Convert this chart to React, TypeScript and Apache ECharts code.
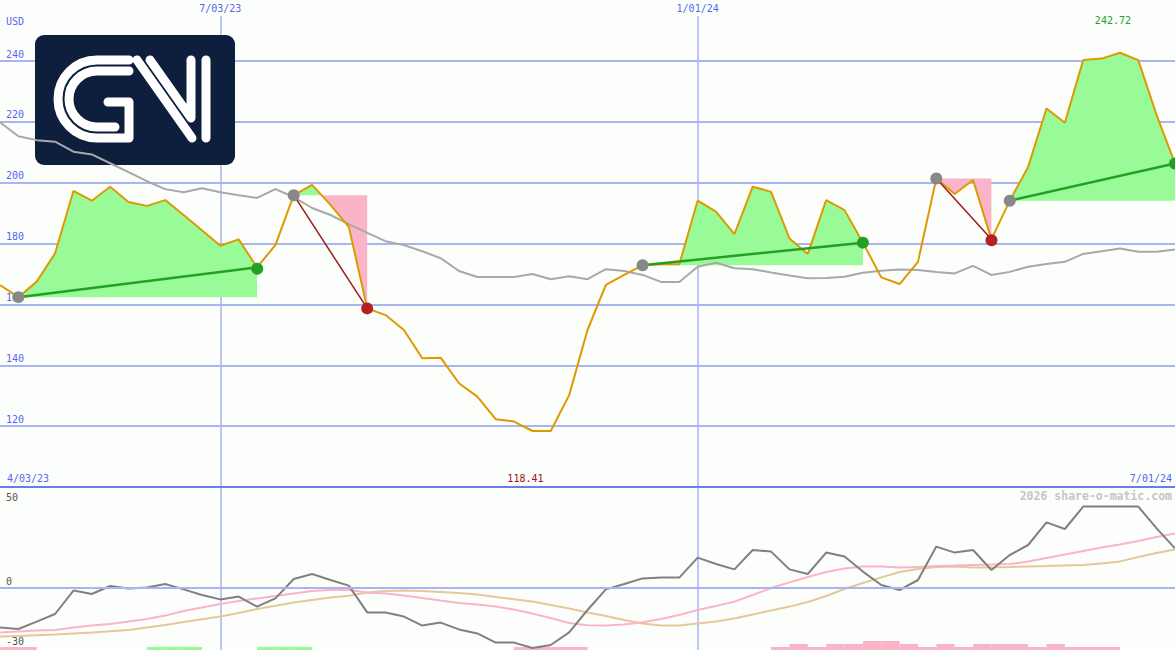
import React, { useEffect, useRef } from "react";
import * as echarts from "echarts";

// ---------- data ----------
const dates = [
  "4/03/23", "4/17/23", "4/24/23", "5/01/23", "5/08/23", "5/15/23", "5/22/23", "5/29/23", "6/05/23", "6/12/23",
  "6/19/23", "6/26/23", "7/03/23", "7/10/23", "7/17/23", "7/24/23", "7/31/23", "8/07/23", "8/14/23", "8/21/23",
  "8/28/23", "9/04/23", "9/11/23", "9/18/23", "9/25/23", "10/02/23", "10/09/23", "10/16/23", "10/23/23", "10/30/23",
  "11/06/23", "11/13/23", "11/20/23", "11/27/23", "12/04/23", "12/11/23", "12/18/23", "12/25/23", "1/01/24", "1/08/24",
  "1/15/24", "1/22/24", "1/29/24", "2/05/24", "2/12/24", "2/19/24", "2/26/24", "3/04/24", "3/11/24", "3/18/24",
  "3/25/24", "4/01/24", "4/08/24", "4/15/24", "4/22/24", "4/29/24", "5/06/24", "5/13/24", "5/20/24", "5/27/24",
  "6/03/24", "6/10/24", "6/17/24", "6/24/24", "7/01/24",
];

const price = [
  166.4, 162.4, 167.5, 176.8, 197.3, 194.1, 198.7, 193.7, 192.4, 194.3,
  189.4, 184.4, 179.3, 181.4, 172.2, 179.5, 195.9, 199.3, 192.7, 185.5,
  158.7, 156.5, 151.6, 142.3, 142.5, 134.1, 129.7, 122.3, 121.5, 118.41,
  118.43, 130.2, 151.6, 166.4, 169.7, 172.9, 173.2, 173.2, 194.1, 190.5,
  183.1, 198.7, 197.0, 181.7, 176.6, 194.3, 191.0, 180.3, 168.9, 166.7,
  174.0, 201.4, 196.3, 200.9, 181.4, 194.1, 205.2, 224.4, 219.7, 240.3,
  240.8, 242.72, 240.3, 222.2, 206.3,
];

const priceAvg = [
  219.9, 215.3, 214.0, 213.5, 210.2, 209.3, 206.4, 203.5, 200.5, 197.9,
  196.9, 198.2, 196.9, 195.9, 195.0, 197.9, 195.3, 191.7, 189.4, 186.4,
  183.5, 180.8, 179.5, 177.5, 175.2, 171.0, 169.0, 169.0, 169.0, 170.0,
  168.3, 169.3, 168.3, 171.6, 171.0, 169.7, 167.4, 167.4, 172.4, 173.7,
  171.9, 171.6, 170.5, 169.5, 168.6, 168.7, 169.1, 170.4, 171.1, 171.5,
  171.3, 170.7, 170.2, 172.7, 169.7, 170.7, 172.4, 173.3, 174.0, 176.6,
  177.5, 178.4, 177.3, 177.3, 178.1,
];

const oscMain = [
  -19.8, -20.5, -16.8, -13.0, -1.3, -3.0, 1.0, -0.2, 0.2, 2.0,
  -0.7, -3.5, -5.7, -4.3, -9.3, -5.2, 4.5, 7.0, 4.0, 1.2,
  -12.2, -12.3, -14.3, -18.8, -17.3, -20.7, -22.7, -27.3, -27.3, -30.0,
  -28.5, -22.2, -11.0, -0.7, 2.0, 4.8, 5.2, 5.2, 15.2, 12.0,
  9.3, 19.0, 18.2, 9.3, 7.0, 17.7, 15.7, 8.2, 1.5, -1.0,
  4.0, 20.7, 17.7, 19.0, 9.0, 16.5, 21.5, 32.8, 29.5, 40.7,
  40.7, 40.7, 40.7, 29.8, 19.8,
];

const oscFast = [
  -22.3, -21.8, -21.3, -21.0, -19.8, -18.8, -18.0, -16.8, -15.5, -13.8, -11.5,
  -9.8, -8.0, -6.5, -5.2, -4.0, -2.7, -1.5, -1.0, -1.0, -2.3, -2.8,
  -3.7, -5.0, -6.3, -7.5, -8.3, -9.2, -10.8, -12.8, -15.0, -17.5, -18.6,
  -18.8, -18.2, -17.1, -15.5, -13.5, -11.0, -9.0, -6.8, -3.5, 0.0,
  2.8, 5.5, 8.0, 9.8, 10.7, 10.7, 10.3, 10.5, 11.0, 11.2, 11.5,
  11.7, 12.0, 13.2, 15.0, 16.7, 18.5, 20.2, 21.7, 23.5, 25.5, 27.3,
];

const oscSlow = [
  -24.3, -24.0, -23.6, -23.2, -22.7, -22.2, -21.6, -21.0, -19.8, -18.5, -17.0,
  -15.6, -14.3, -12.5, -10.5, -8.9, -7.3, -6.0, -4.8, -3.9, -2.3, -1.5,
  -1.2, -1.5, -2.0, -2.5, -3.3, -4.5, -5.6, -6.8, -8.5, -10.3, -12.2,
  -14.0, -16.0, -17.7, -18.7, -18.8, -17.8, -16.8, -15.2, -13.2, -11.2,
  -9.3, -7.0, -4.0, -0.5, 2.5, 5.3, 8.0, 9.5, 10.5, 10.7, 10.3,
  10.3, 10.5, 10.8, 11.0, 11.3, 11.5, 12.3, 13.3, 15.5, 17.5, 19.3,
];

// signal strip at the bottom: +n green, -n pink, 0 none
const signalLevels = [
  -1, -1, 0, 0, 0, 0, 0, 0, 1, 1,
  1, 0, 0, 0, 1, 1, 1, 0, 0, 0,
  0, 0, 0, 0, 0, 0, 0, 0, -1, -1,
  -1, -1, 0, 0, 0, 0, 0, 0, 0, 0,
  0, 0, -1, -2, -1, -2, -2, -3, -3, -2,
  -1, -2, -1, -2, -2, -2, -1, -2, -1, -1,
  -1, 0, 0, 0,
];

const tradeEntry = [1, 16, 35, 51, 55];
const tradeExit = [14, 20, 47, 54, 64];

const priceTicks = [120, 140, 160, 180, 200, 220, 240];
const oscTicksBelow = [0, -30];
const oscTicksTop = [50];
const markedDates = ["7/03/23", "1/01/24"];
const endDates = ["4/03/23", "7/01/24"];

// ---------- styles ----------
const MONO = "'DejaVu Sans Mono', monospace";
const BLUE_TEXT = "#5468ee";
const GRID_LINE = "#a9b4f3";
const AXIS_LINE = "#6b7de9";
const FILL_GREEN = "#98fb98";
const FILL_PINK = "#fab4c8";
const OSC_MIN = -31;
const OSC_MAX = 50;

const LOGO_PATH =
  "M129,60 H97 A39,39 0 0 0 58,99 A39,39 0 0 0 97,138 H129 V102 H108 " +
  "M129,71 H97 A28,28 0 0 0 69,99 A28,28 0 0 0 97,127 H115 " +
  "M137,60 L192,138 M150,60 L191,118 L191,60 " +
  "M206,60 V138";

echarts.graphic.registerShape("gniLogo", echarts.graphic.extendPath(LOGO_PATH, {}));

function buildOption() {
  const fillRender = (params: any, api: any) => {
    const k = params.dataIndex;
    const e = tradeEntry[k];
    const x = tradeExit[k];
    const L = price[e];
    const base = api.coord([e, L]);
    const up: number[][] = [base];
    const dn: number[][] = [base];
    for (let i = e; i <= x; i++) {
      if (i > e) {
        const a = price[i - 1] - L;
        const b = price[i] - L;
        if (a * b < 0) {
          const t = a / (a - b);
          const p0 = api.coord([i - 1, L]);
          const p1 = api.coord([i, L]);
          const c = [p0[0] + (p1[0] - p0[0]) * t, p0[1]];
          up.push(c);
          dn.push(c);
        }
      }
      up.push(api.coord([i, Math.max(price[i], L)]));
      dn.push(api.coord([i, Math.min(price[i], L)]));
    }
    up.push(api.coord([x, L]));
    dn.push(api.coord([x, L]));
    return {
      type: "group",
      children: [
        { type: "polygon", shape: { points: up }, style: { fill: FILL_GREEN } },
        { type: "polygon", shape: { points: dn }, style: { fill: FILL_PINK } },
      ],
    };
  };

  const markerRender = (params: any, api: any) => {
    const k = params.dataIndex;
    const e = tradeEntry[k];
    const x = tradeExit[k];
    const p0 = api.coord([e, price[e]]);
    const p1 = api.coord([x, price[x]]);
    const win = price[x] >= price[e];
    return {
      type: "group",
      children: [
        {
          type: "line",
          shape: { x1: p0[0], y1: p0[1], x2: p1[0], y2: p1[1] },
          style: { stroke: win ? "#23a023" : "#9e1b1b", lineWidth: win ? 2.5 : 1.5 },
        },
        { type: "circle", shape: { cx: p0[0], cy: p0[1], r: 6 }, style: { fill: "#888888" } },
        { type: "circle", shape: { cx: p1[0], cy: p1[1], r: 6 }, style: { fill: win ? "#23a023" : "#b22222" } },
      ],
    };
  };

  const signalRender = (params: any, api: any) => {
    const i = api.value(0);
    const lv = api.value(1);
    const a = api.coord([i, OSC_MIN]);
    const b = api.coord([i + 1, OSC_MIN + Math.abs(lv) * 1.5]);
    return {
      type: "rect",
      shape: { x: a[0], y: b[1], width: b[0] - a[0], height: a[1] - b[1] },
      style: { fill: lv > 0 ? FILL_GREEN : FILL_PINK },
    };
  };

  const isMarked = (_i: number, v: string) => markedDates.includes(v);
  const isEnd = (_i: number, v: string) => endDates.includes(v);

  return {
    animation: false,
    backgroundColor: "#fcfefc",
    grid: [
      { left: 0, right: 0, top: 16, height: 471, outerBoundsMode: "none", containLabel: false },
      { left: 0, right: 0, top: 488, height: 162, outerBoundsMode: "none", containLabel: false },
    ],
    xAxis: [
      {
        gridIndex: 0,
        type: "category",
        data: dates,
        position: "top",
        boundaryGap: false,
        axisLine: { show: false },
        axisTick: { show: false },
        axisLabel: {
          interval: isMarked,
          color: BLUE_TEXT,
          fontFamily: MONO,
          fontSize: 10,
          margin: 3,
        },
        splitLine: { show: true, interval: isMarked, lineStyle: { color: GRID_LINE, width: 1.5 } },
      },
      {
        gridIndex: 0,
        type: "category",
        data: dates,
        position: "bottom",
        boundaryGap: false,
        axisLine: { show: true, lineStyle: { color: AXIS_LINE, width: 2 } },
        axisTick: { show: false },
        axisLabel: {
          inside: true,
          interval: isEnd,
          alignMinLabel: "left",
          alignMaxLabel: "right",
          margin: 4,
          color: BLUE_TEXT,
          fontFamily: MONO,
          fontSize: 10,
          formatter: (v: string) => (v === endDates[0] ? `{l|${v}}` : `{r|${v}}`),
          rich: {
            l: { padding: [0, 0, 0, 7], color: BLUE_TEXT, fontFamily: MONO, fontSize: 10 },
            r: { padding: [0, 3, 0, 0], color: BLUE_TEXT, fontFamily: MONO, fontSize: 10 },
          },
        },
        splitLine: { show: false },
      },
      {
        gridIndex: 1,
        type: "category",
        data: dates,
        boundaryGap: false,
        axisLine: { show: false },
        axisTick: { show: false },
        axisLabel: { show: false },
        splitLine: { show: true, interval: isMarked, lineStyle: { color: GRID_LINE, width: 1.5 } },
      },
    ],
    yAxis: [
      {
        gridIndex: 0,
        type: "value",
        position: "left",
        min: 100,
        max: 254.8,
        interval: 20,
        axisLine: { show: false },
        axisTick: { show: false },
        axisLabel: {
          inside: true,
          margin: 6,
          align: "left",
          verticalAlign: "bottom",
          padding: [0, 0, 2, 0],
          color: BLUE_TEXT,
          fontFamily: MONO,
          fontSize: 10,
          formatter: (v: number) => (priceTicks.includes(v) ? String(v) : ""),
        },
        splitLine: {
          show: true,
          showMinLine: false,
          showMaxLine: false,
          lineStyle: { color: GRID_LINE, width: 2 },
        },
      },
      {
        gridIndex: 1,
        type: "value",
        position: "left",
        min: OSC_MIN,
        max: OSC_MAX,
        axisLine: { show: false },
        axisTick: { show: false },
        splitLine: { show: false },
        axisLabel: {
          inside: true,
          customValues: oscTicksBelow,
          margin: 6,
          align: "left",
          verticalAlign: "bottom",
          padding: [0, 0, 2, 0],
          color: "#555555",
          fontFamily: MONO,
          fontSize: 10,
          formatter: (v: number) => (oscTicksBelow.includes(v) ? String(v) : ""),
        },
      },
      {
        gridIndex: 1,
        type: "value",
        position: "left",
        min: OSC_MIN,
        max: OSC_MAX,
        axisLine: { show: false },
        axisTick: { show: false },
        splitLine: { show: false },
        axisLabel: {
          inside: true,
          customValues: oscTicksTop,
          margin: 6,
          align: "left",
          verticalAlign: "top",
          padding: [4, 0, 0, 0],
          color: "#555555",
          fontFamily: MONO,
          fontSize: 10,
          formatter: (v: number) => (oscTicksTop.includes(v) ? String(v) : ""),
        },
      },
    ],
    graphic: [
      {
        type: "rect",
        z: 1,
        shape: { x: 35, y: 35, width: 200, height: 130, r: 9 },
        style: { fill: "#0d1f3c" },
      },
      {
        type: "gniLogo",
        z: 1,
        x: 0,
        y: 0,
        style: { fill: "none", stroke: "#ffffff", lineWidth: 9, lineCap: "round", lineJoin: "round" },
      },
      {
        type: "text",
        z: 5,
        x: 6,
        y: 21,
        style: { text: "USD", fill: BLUE_TEXT, font: `10px ${MONO}`, align: "left", verticalAlign: "middle" },
      },
      {
        type: "text",
        z: 5,
        x: 1172,
        y: 496,
        style: {
          text: "2026 share-o-matic.com",
          fill: "#c6c6c6",
          font: `bold 11.5px ${MONO}`,
          align: "right",
          verticalAlign: "middle",
        },
      },
    ],
    series: [
      {
        type: "custom",
        name: "trade fill",
        xAxisIndex: 0,
        yAxisIndex: 0,
        z: 2,
        renderItem: fillRender,
        encode: { x: [0, 2], y: [1, 3] },
        data: tradeEntry.map((e, k) => [e, price[e], tradeExit[k], price[tradeExit[k]]]),
        silent: true,
      },
      {
        type: "line",
        name: "average",
        xAxisIndex: 0,
        yAxisIndex: 0,
        z: 3,
        data: priceAvg,
        showSymbol: false,
        lineStyle: { color: "#a8a8a8", width: 2 },
        silent: true,
      },
      {
        type: "line",
        name: "price",
        xAxisIndex: 0,
        yAxisIndex: 0,
        z: 4,
        data: price,
        showSymbol: false,
        lineStyle: { color: "#dd9a00", width: 2 },
        silent: true,
        markPoint: {
          symbol: "circle",
          symbolSize: 0,
          silent: true,
          label: {
            show: true,
            position: "inside",
            fontFamily: MONO,
            fontSize: 10,
            formatter: (p: any) => Number(p.value).toFixed(2),
          },
          data: [
            { type: "max", label: { offset: [-7, -32], color: "#22a022" } },
            { type: "min", label: { offset: [-7, 48], color: "#a01010" } },
          ],
        },
      },
      {
        type: "custom",
        name: "trades",
        xAxisIndex: 0,
        yAxisIndex: 0,
        z: 5,
        renderItem: markerRender,
        encode: { x: [0, 2], y: [1, 3] },
        data: tradeEntry.map((e, k) => [e, price[e], tradeExit[k], price[tradeExit[k]]]),
        silent: true,
      },
      {
        type: "line",
        name: "slow",
        xAxisIndex: 2,
        yAxisIndex: 1,
        z: 2,
        data: oscSlow,
        showSymbol: false,
        lineStyle: { color: "#e3c998", width: 2 },
        silent: true,
        markLine: {
          silent: true,
          symbol: "none",
          label: { show: false },
          lineStyle: { color: GRID_LINE, width: 2, type: "solid" },
          data: [{ yAxis: 0 }],
        },
      },
      {
        type: "line",
        name: "fast",
        xAxisIndex: 2,
        yAxisIndex: 1,
        z: 3,
        data: oscFast,
        showSymbol: false,
        lineStyle: { color: "#fbb3c8", width: 2 },
        silent: true,
      },
      {
        type: "line",
        name: "oscillator",
        xAxisIndex: 2,
        yAxisIndex: 1,
        z: 4,
        data: oscMain,
        showSymbol: false,
        lineStyle: { color: "#808080", width: 2 },
        silent: true,
      },
      {
        type: "custom",
        name: "signal",
        xAxisIndex: 2,
        yAxisIndex: 1,
        z: 2,
        renderItem: signalRender,
        data: signalLevels.map((v, i) => [i, v]).filter((d) => d[1] !== 0),
        silent: true,
      },
    ],
  };
}

export default function App() {
  const ref = useRef<HTMLDivElement>(null);
  useEffect(() => {
    if (!ref.current) return;
    const chart = echarts.init(ref.current, null, { renderer: "svg" });
    chart.setOption(buildOption() as any);
    return () => chart.dispose();
  }, []);
  return (
    <div
      ref={ref}
      style={{ position: "fixed", left: 0, top: 0, width: 1175, height: 650 }}
    />
  );
}
